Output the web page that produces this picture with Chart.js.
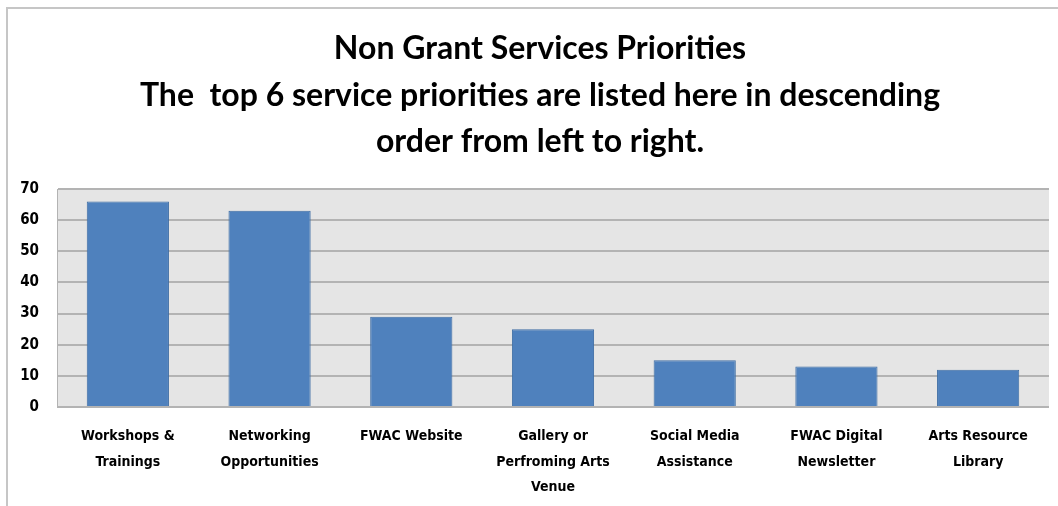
<!DOCTYPE html>
<html>
<head>
<meta charset="utf-8">
<script src="https://cdn.jsdelivr.net/npm/chart.js@4.4.1/dist/chart.umd.min.js"></script>
<style>
  html, body { margin: 0; padding: 0; background: #fff; overflow: hidden; }
  .frame { position: absolute; left: 6px; top: 7px; width: 1100px; height: 560px;
           border-left: 2px solid #c6c6c6; border-top: 2px solid #c6c6c6; }
  .wrap { position: absolute; left: 0; top: 0; width: 1058px; height: 506px; }
</style>
</head>
<body>
<div class="frame"></div>
<div class="wrap"><canvas id="priorityChart"></canvas></div>
<script>
const categories = [
  ['Workshops &', 'Trainings'],
  ['Networking', 'Opportunities'],
  ['FWAC Website'],
  ['Gallery or', 'Perfroming Arts', 'Venue'],
  ['Social Media', 'Assistance'],
  ['FWAC Digital', 'Newsletter'],
  ['Arts Resource', 'Library']
];
const responses = [66, 63, 29, 25, 15, 13, 12];
const yTicks = [0, 10, 20, 30, 40, 50, 60, 70];
const titleLines = [
  'Non Grant Services Priorities',
  'The  top 6 service priorities are listed here in descending',
  'order from left to right.'
];

const narrow = "'Liberation Sans Narrow', 'DejaVu Sans Condensed', sans-serif";

// grey plot background like the spreadsheet chart
const plotBg = {
  id: 'plotBg',
  beforeDraw(chart) {
    const a = chart.chartArea;
    const c = chart.ctx;
    c.save();
    c.fillStyle = '#e5e5e5';
    c.fillRect(a.left, a.top, a.right - a.left, a.bottom - a.top);
    c.restore();
  }
};

// three-line title, centred a little right of the canvas middle like the original
const bigTitle = {
  id: 'bigTitle',
  afterDraw(chart) {
    const c = chart.ctx;
    const cx = chart.width / 2 + 11;
    c.save();
    c.fillStyle = '#000';
    c.font = 'bold 32px Lato';
    c.textAlign = 'center';
    c.textBaseline = 'middle';
    titleLines.forEach((line, i) => c.fillText(line, cx, 49 + i * 46.5));
    c.restore();
  }
};

new Chart(document.getElementById('priorityChart'), {
  type: 'bar',
  data: {
    labels: categories,
    datasets: [{
      data: responses,
      backgroundColor: '#4f81bd',
      borderColor: '#3e6da4',
      borderWidth: 1,
      categoryPercentage: 1,
      barPercentage: 0.58
    }]
  },
  options: {
    responsive: true,
    maintainAspectRatio: false,
    animation: false,
    layout: { padding: { left: 10, right: 9, top: 189, bottom: 0 } },
    plugins: {
      legend: { display: false },
      tooltip: { enabled: false },
      title: { display: false }
    },
    scales: {
      x: {
        grid: { display: false, drawTicks: false },
        border: { display: false },
        afterFit(scale) { scale.height = 99; },
        ticks: {
          color: '#000',
          padding: 17,
          maxRotation: 0,
          autoSkip: false,
          font: { family: narrow, size: 14, weight: 'bold', lineHeight: 1.82 }
        }
      },
      y: {
        min: 0,
        max: 70,
        afterBuildTicks(scale) { scale.ticks = yTicks.map(v => ({ value: v })); },
        afterFit(scale) { scale.width = 47; },
        grid: { color: '#b3b3b3', lineWidth: 2, drawTicks: false },
        border: { display: true, color: '#b3b3b3', width: 1 },
        ticks: {
          color: '#000',
          padding: 18,
          font: { family: narrow, size: 15, weight: 'bold' }
        }
      }
    }
  },
  plugins: [plotBg, bigTitle]
});
</script>
</body>
</html>
